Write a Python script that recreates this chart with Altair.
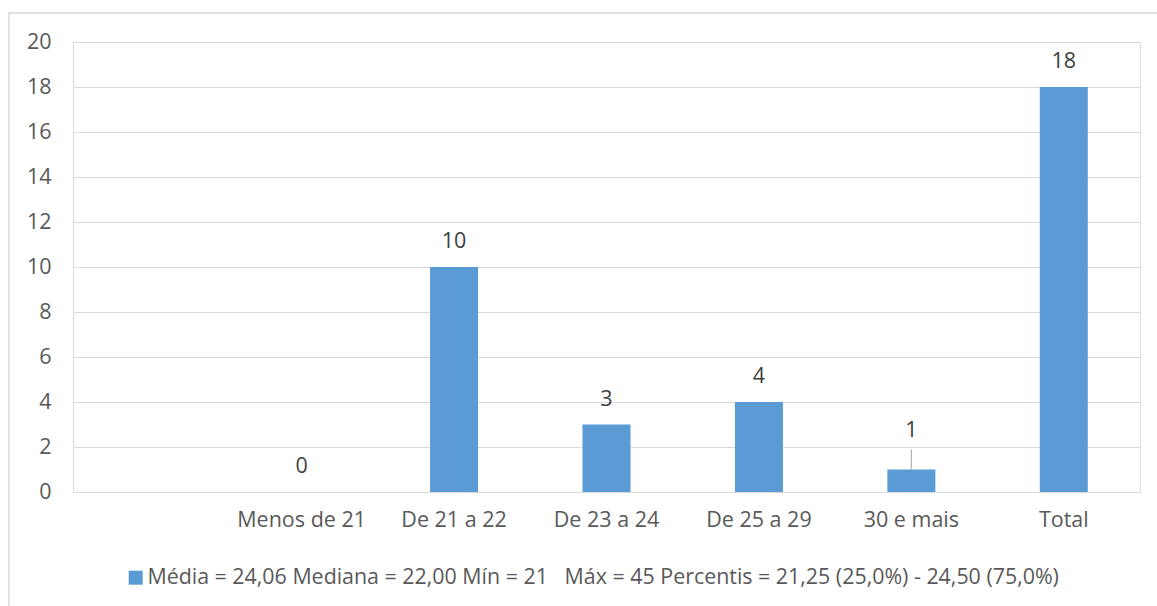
import altair as alt
import pandas as pd

# Faixas etárias e contagens
slots = ["", "Menos de 21", "De 21 a 22", "De 23 a 24", "De 25 a 29", "30 e mais", "Total"]
categorias = ["Menos de 21", "De 21 a 22", "De 23 a 24", "De 25 a 29", "30 e mais", "Total"]
contagens = [0, 10, 3, 4, 1, 18]
legenda = ("Média = 24,06 Mediana = 22,00 Mín = 21\u00a0\u00a0 Máx = 45 "
           "Percentis = 21,25 (25,0%) - 24,50 (75,0%)")
eixo_y = [0, 2, 4, 6, 8, 10, 12, 14, 16, 18, 20]

df = pd.DataFrame({"faixa": categorias, "n": contagens, "serie": legenda})

FONT = "Open Sans"
BLUE = "#5b9bd5"

x = alt.X("faixa:N", sort=slots,
          scale=alt.Scale(domain=slots, paddingInner=0, paddingOuter=0),
          axis=alt.Axis(title=None, labelAngle=0, ticks=False, domain=False,
                        labelPadding=17, labelFontSize=21.5, labelColor="#595959",
                        labelFont=FONT, grid=False))
y = alt.Y("n:Q", scale=alt.Scale(domain=[0, 20], nice=False),
          axis=alt.Axis(title=None, values=eixo_y, ticks=False, domain=False,
                        labelPadding=22, labelFontSize=21.5, labelColor="#595959",
                        labelFont=FONT, grid=True, gridColor="#d9d9d9",
                        gridWidth=1.2))

base = alt.Chart(df)

bars = base.mark_bar(width=48).encode(
    x=x, y=y,
    color=alt.Color("serie:N", scale=alt.Scale(range=[BLUE]),
                    legend=alt.Legend(title=None, orient="none", legendX=52,
                                      legendY=525, symbolType="square",
                                      symbolSize=196, symbolStrokeWidth=0,
                                      labelFontSize=21.4, labelFont=FONT,
                                      labelColor="#595959", labelLimit=1200,
                                      labelOffset=1)),
)

labels = base.transform_filter(alt.datum.faixa != "30 e mais").mark_text(
    dy=-25, baseline="middle", fontSize=21.5, font=FONT, color="#404040"
).encode(x=x, y=y, text="n:Q")

# rótulo deslocado com linha de chamada
pequeno = base.transform_filter(alt.datum.faixa == "30 e mais")
lead = pequeno.mark_rule(color="#a6a6a6", strokeWidth=1, y2Offset=-20).encode(
    x=x, y=y, y2="n:Q")
label_small = pequeno.mark_text(
    dy=-39, baseline="middle", fontSize=21.5, font=FONT, color="#404040"
).encode(x=x, y=y, text="n:Q")

frame = alt.Chart(pd.DataFrame({"k": [0]})).mark_rect(
    fill=None, stroke="#d9d9d9", strokeWidth=1.5, clip=False
).encode(x=alt.value(-64), x2=alt.value(1100), y=alt.value(-29), y2=alt.value(600))

chart = alt.layer(frame, bars, lead, labels, label_small).properties(
    width=1067, height=450,
    autosize=alt.AutoSizeParams(type="none"),
    padding={"left": 73, "top": 42, "right": 17, "bottom": 114},
).configure_view(stroke=None).configure(background="white")

chart.save("out.html", embed_options={"renderer": "svg", "actions": False})
